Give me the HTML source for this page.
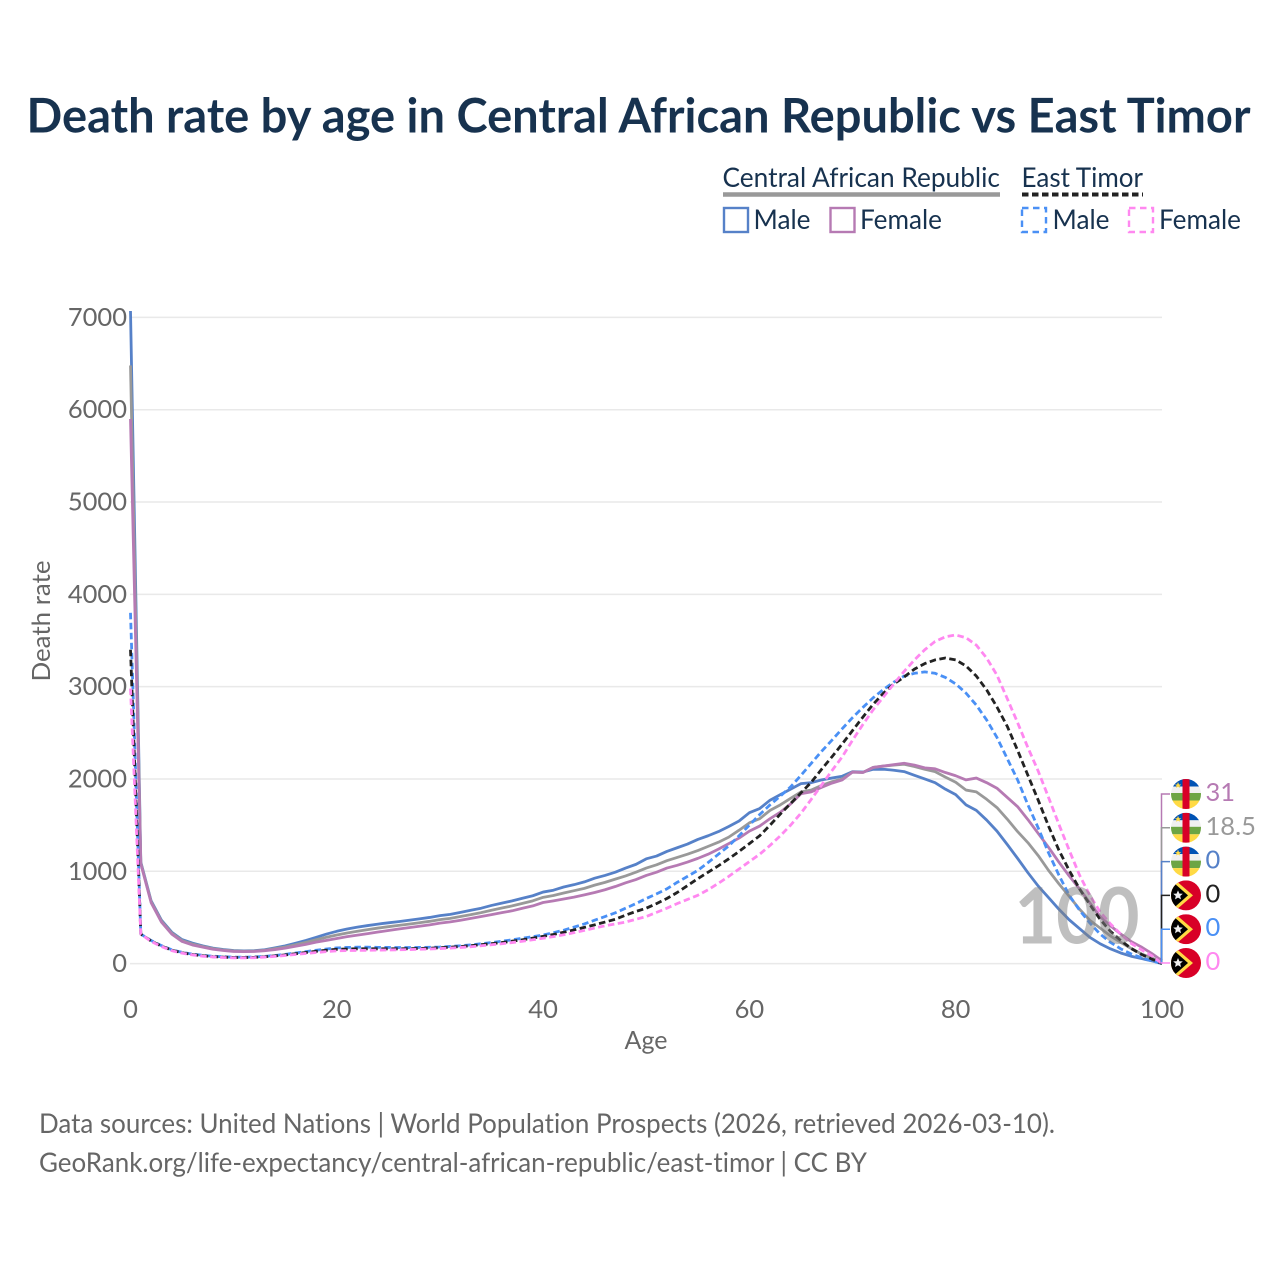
<!DOCTYPE html>
<html lang="en">
<head>
<meta charset="utf-8">
<title>Death rate by age in Central African Republic vs East Timor</title>
<style>
html,body{margin:0;padding:0;background:#fff;}
svg{display:block;}
text{font-family:"Lato","Carlito","Liberation Sans",sans-serif;font-variant-ligatures:none;font-feature-settings:"liga" 0,"clig" 0;}
</style>
</head>
<body>
<svg id="chart" xmlns="http://www.w3.org/2000/svg" width="1280" height="1280" viewBox="0 0 1280 1280">
<defs>
<clipPath id="flag-clip"><circle cx="0" cy="0" r="15"/></clipPath>
<g id="flag-car" clip-path="url(#flag-clip)">
<rect x="-15" y="-15" width="30" height="7.500" fill="#0052b4"/>
<rect x="-15" y="-7.500" width="30" height="6.500" fill="#f0f0f0"/>
<rect x="-15" y="-1" width="30" height="7.500" fill="#6da544"/>
<rect x="-15" y="6.500" width="30" height="8.500" fill="#ffda44"/>
<rect x="-3.500" y="-15" width="7" height="30" fill="#d80027"/>
<polygon points="-8,-12 -7,-9.500 -4.800,-9.500 -6.500,-8 -5.800,-6 -8,-7.200 -10,-6 -9.400,-8 -11,-9.500 -8.900,-9.500" fill="#ffda44"/>
</g>
<g id="flag-tl" clip-path="url(#flag-clip)">
<rect x="-15" y="-15" width="30" height="30" fill="#d80027"/>
<polygon points="-15,-19 7,0 -15,19" fill="#ffda44"/>
<polygon points="-15,-15 2,0 -15,15" fill="#000"/>
<polygon points="-8,-5 -6.600,-1.800 -3.200,-1.600 -5.800,0.600 -5,4 -8,2.200 -11,4 -10.200,0.600 -12.800,-1.600 -9.400,-1.800" fill="#f0f0f0"/>
</g>
</defs>

<text x="26.500" y="132.700" font-size="48" font-weight="700" fill="#17324f" textLength="1224" lengthAdjust="spacingAndGlyphs">Death rate by age in Central African Republic vs East Timor</text>

<g>
<g>
<text x="722.500" y="187" font-size="27" fill="#17324f" textLength="277.500" lengthAdjust="spacingAndGlyphs">Central African Republic</text>
<line x1="723" y1="194.500" x2="1000" y2="194.500" stroke="#999" stroke-width="4.500"/>
<rect x="724" y="208" width="24" height="24" fill="none" stroke="#5681c8" stroke-width="2.400"/>
<text x="753.500" y="229" font-size="27" fill="#17324f" textLength="57" lengthAdjust="spacingAndGlyphs">Male</text>
<rect x="830.500" y="208" width="24" height="24" fill="none" stroke="#b67ab3" stroke-width="2.400"/>
<text x="860" y="229" font-size="27" fill="#17324f" textLength="82" lengthAdjust="spacingAndGlyphs">Female</text>
</g>
<g>
<text x="1021.500" y="187" font-size="27" fill="#17324f" textLength="121.500" lengthAdjust="spacingAndGlyphs">East Timor</text>
<line x1="1022" y1="194.500" x2="1143" y2="194.500" stroke="#222" stroke-width="4" stroke-dasharray="6.500 3.500"/>
<rect x="1022" y="208" width="24" height="24" fill="none" stroke="#4a90f5" stroke-width="2.400" stroke-dasharray="6.500 4.500"/>
<text x="1052.500" y="229" font-size="27" fill="#17324f" textLength="57" lengthAdjust="spacingAndGlyphs">Male</text>
<rect x="1129" y="208" width="24" height="24" fill="none" stroke="#ff88f0" stroke-width="2.400" stroke-dasharray="6.500 4.500"/>
<text x="1159" y="229" font-size="27" fill="#17324f" textLength="82" lengthAdjust="spacingAndGlyphs">Female</text>
</g>
</g>

<g id="grid"></g>
<g id="y-ticks"></g>
<g id="x-ticks"></g>
<text x="646" y="1049" font-size="25" fill="#666" text-anchor="middle" textLength="43" lengthAdjust="spacingAndGlyphs">Age</text>
<text transform="translate(50,621) rotate(-90)" font-size="25" fill="#666" text-anchor="middle" textLength="121" lengthAdjust="spacingAndGlyphs">Death rate</text>

<g id="series"></g>
<text x="1077" y="943.500" font-size="78" font-weight="700" fill="#808080" fill-opacity="0.5" text-anchor="middle" textLength="125" lengthAdjust="spacingAndGlyphs">100</text>
<g id="end-connectors"></g>
<g id="end-labels"></g>

<text x="39" y="1133" font-size="27" fill="#666" textLength="1016" lengthAdjust="spacingAndGlyphs">Data sources: United Nations | World Population Prospects (2026, retrieved 2026-03-10).</text>
<text x="39" y="1172" font-size="27" fill="#666" textLength="828" lengthAdjust="spacingAndGlyphs">GeoRank.org/life-expectancy/central-african-republic/east-timor | CC BY</text>
</svg>

<script>
const yTickValues = [0, 1000, 2000, 3000, 4000, 5000, 6000, 7000];
const xTickValues = [0, 20, 40, 60, 80, 100];
const carMale = [7070,1100,680,470,340,260,222,192,168,152,142,138,140,150,170,192,220,250,285,320,350,375,395,412,428,442,455,470,485,500,520,533,555,578,600,630,655,680,708,735,775,795,830,855,885,925,955,990,1035,1075,1135,1165,1215,1255,1295,1345,1385,1430,1485,1545,1635,1680,1770,1830,1890,1950,1960,1990,2010,2030,2080,2075,2105,2105,2095,2080,2040,2000,1960,1890,1830,1720,1660,1555,1435,1290,1140,985,840,715,590,475,380,285,215,160,115,80,55,30,0];
const carBoth = [6480,1090,670,460,330,250,212,185,162,147,138,134,136,145,162,180,205,230,258,285,310,332,350,368,385,400,414,428,443,458,476,490,510,530,552,578,602,625,652,680,718,738,765,790,815,850,880,915,950,990,1035,1070,1115,1150,1185,1225,1270,1315,1370,1445,1525,1570,1660,1720,1790,1860,1880,1930,1970,2000,2075,2070,2125,2140,2150,2160,2135,2105,2080,2020,1965,1880,1860,1780,1690,1565,1430,1310,1170,1010,865,730,590,470,385,300,230,165,105,60,18.5];
const carFemale = [5900,1080,660,450,320,240,202,178,155,142,132,130,132,140,152,168,188,208,232,252,272,292,308,325,342,358,375,390,405,420,438,452,470,490,510,530,552,572,600,625,662,680,700,720,745,770,800,835,875,910,955,990,1035,1065,1100,1140,1185,1240,1300,1360,1435,1490,1570,1640,1730,1840,1860,1910,1955,1990,2075,2070,2125,2140,2155,2170,2150,2120,2110,2070,2035,1990,2010,1960,1900,1800,1700,1560,1410,1260,1100,950,810,660,510,410,320,240,180,110,31];
const etMale = [3800,320,250,195,150,122,103,90,80,74,70,70,72,78,88,100,115,130,145,158,170,175,178,178,176,175,174,174,175,177,180,186,193,203,215,228,242,258,275,292,310,335,362,395,430,470,510,550,600,650,705,755,810,880,945,1010,1095,1185,1275,1385,1500,1615,1720,1815,1915,2040,2170,2300,2420,2545,2665,2775,2880,2970,3050,3115,3145,3160,3145,3100,3030,2930,2800,2640,2450,2220,1990,1720,1470,1200,960,740,580,440,320,230,160,105,65,30,0];
const etBoth = [3400,320,245,190,145,118,98,85,75,70,66,66,68,74,83,94,107,120,133,145,155,158,160,160,160,160,160,162,164,167,172,178,185,194,205,216,228,243,258,276,295,315,340,365,392,420,450,480,525,565,600,650,705,770,845,920,990,1060,1135,1215,1300,1385,1500,1620,1735,1850,1965,2105,2240,2380,2525,2670,2810,2930,3030,3105,3190,3250,3290,3310,3290,3225,3115,2965,2780,2570,2310,2040,1770,1490,1230,1010,810,640,480,350,250,165,100,50,0];
const etFemale = [2980,320,240,185,140,113,94,80,72,66,62,62,64,70,78,88,99,110,120,130,138,141,143,144,146,148,150,152,155,158,163,168,175,183,193,204,215,228,242,258,275,292,312,335,360,385,410,430,450,480,510,555,600,650,695,740,800,870,945,1025,1105,1185,1280,1385,1500,1630,1780,1935,2090,2240,2420,2590,2750,2890,3030,3165,3290,3400,3490,3540,3560,3530,3450,3310,3125,2870,2610,2340,2085,1800,1510,1230,960,740,560,430,320,220,150,85,0];
const endLabels = ["31", "18.5", "0", "0", "0", "0"];

const NS = 'http://www.w3.org/2000/svg';
const xScale = age => 130.5 + age * 10.315;
const yScale = v => 963.6 - v * 0.09231;

function make(tag, attrs, parent) {
  const el = document.createElementNS(NS, tag);
  for (const k in attrs) el.setAttribute(k, attrs[k]);
  parent.appendChild(el);
  return el;
}

const gridG = document.getElementById('grid');
const yTickG = document.getElementById('y-ticks');
const xTickG = document.getElementById('x-ticks');

yTickValues.forEach(v => {
  const ln = make('line', {x1: 130, x2: 1162, y1: yScale(v), y2: yScale(v), stroke: '#e9e9e9', 'stroke-width': 1.5}, gridG);
  
  
  const t = make('text', {x: 127, y: yScale(v) + 8.5, 'font-size': 25.5, fill: '#666', 'text-anchor': 'end'}, yTickG);
  t.textContent = String(v);
  
  
});

xTickValues.forEach(v => {
  const t = make('text', {x: xScale(v), y: 1018, 'font-size': 25.5, fill: '#666', 'text-anchor': 'middle'}, xTickG);
  t.textContent = String(v);
  
  
});

const seriesG = document.getElementById('series');
function drawSeries(values, color, dash, name) {
  const d = values.map((v, i) => (i ? 'L' : 'M') + xScale(i).toFixed(2) + ' ' + yScale(v).toFixed(2)).join(' ');
  const p = make('path', {d: d, fill: 'none', stroke: color, 'stroke-width': 2.8, 'stroke-linejoin': 'round'}, seriesG);
  if (dash) p.setAttribute('stroke-dasharray', dash);
  
  
}
drawSeries(carMale, '#5681c8', null, 'line-car-male');
drawSeries(carBoth, '#999999', null, 'line-car-both');
drawSeries(carFemale, '#b67ab3', null, 'line-car-female');
drawSeries(etMale, '#4a90f5', '6.5 3.5', 'line-east-timor-male');
drawSeries(etBoth, '#222222', '6.5 3.5', 'line-east-timor-both');
drawSeries(etFemale, '#ff88f0', '6.5 3.5', 'line-east-timor-female');

const connG = document.getElementById('end-connectors');
const labelG = document.getElementById('end-labels');
const endSeries = [carFemale, carBoth, carMale, etBoth, etMale, etFemale];
const endColors = ['#b67ab3', '#999999', '#5681c8', '#222222', '#4a90f5', '#ff88f0'];
const endFlags = ['#flag-car', '#flag-car', '#flag-car', '#flag-tl', '#flag-tl', '#flag-tl'];
endSeries.forEach((vals, i) => {
  const slotY = 794 + i * 33.8;
  const startY = yScale(vals[vals.length - 1]);
  const c = make('path', {d: 'M1161.5 ' + startY + ' L1161.5 ' + slotY + ' L1170 ' + slotY, fill: 'none', stroke: endColors[i], 'stroke-width': 1.5}, connG);
  
  
  const f = make('use', {href: endFlags[i], transform: 'translate(1186,' + slotY + ')'}, labelG);
  
  
  const t = make('text', {x: 1205.5, y: slotY + 7, 'font-size': 25.5, fill: endColors[i]}, labelG);
  t.textContent = endLabels[i];
  
  
});
</script>
</body>
</html>
